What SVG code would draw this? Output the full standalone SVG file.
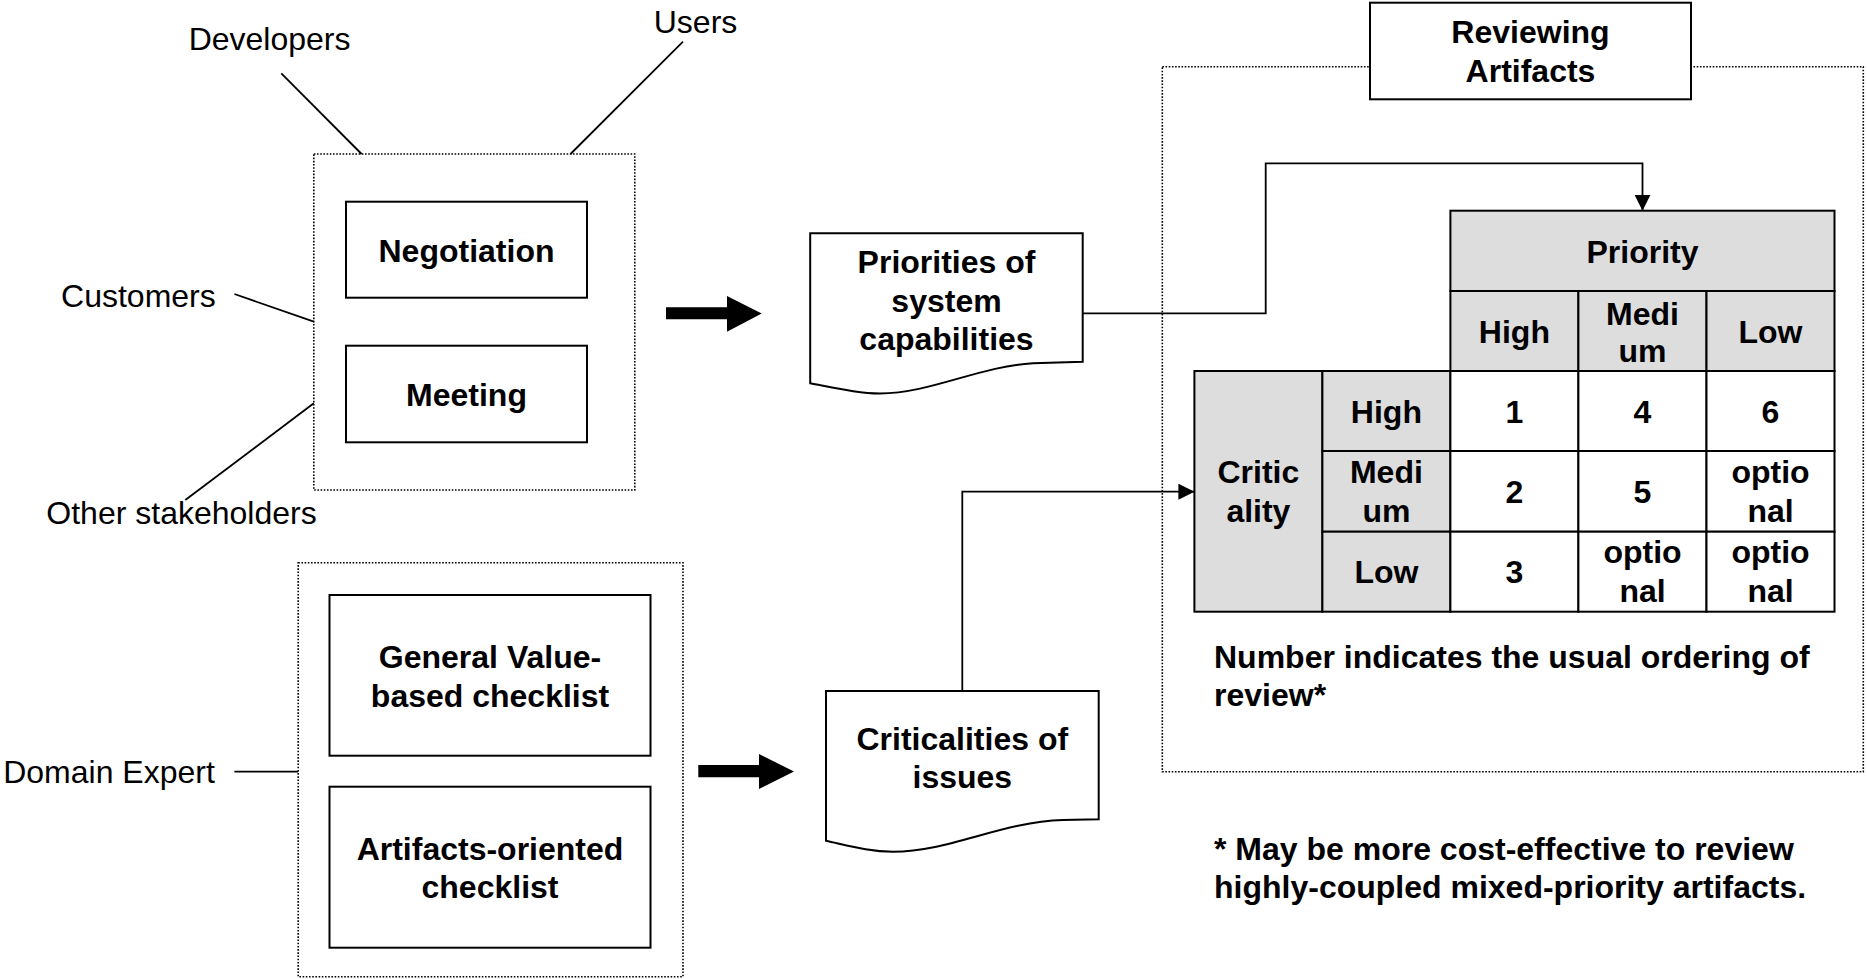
<svg xmlns="http://www.w3.org/2000/svg" width="1867" height="979" viewBox="0 0 1867 979">
<style>
  text { font-family: "Liberation Sans", Arial, sans-serif; font-size: 32px; fill: #000; }
  .b { font-weight: bold; }
  .c { text-anchor: middle; }
  .box { fill: #fff; stroke: #000; stroke-width: 2; }
  .dot { fill: none; stroke: #000; stroke-width: 1.6; stroke-dasharray: 1.6 1.6; }
  .ln { fill: none; stroke: #000; stroke-width: 1.8; }
  .gray { fill: #DDDDDD; stroke: #000; stroke-width: 2; }
  .cell { fill: #fff; stroke: #000; stroke-width: 2; }
  .thick { fill: #000; stroke: none; }
</style>
<defs>
  <marker id="ah" markerUnits="userSpaceOnUse" markerWidth="16" markerHeight="16" refX="16" refY="8" orient="auto">
    <path d="M0,0 L16,8 L0,16 Z" fill="#000"/>
  </marker>
</defs>
<rect width="1867" height="979" fill="#fff"/>

<!-- Stakeholder labels -->
<g id="developers"><text class="c" x="269.6" y="50">Developers</text></g>
<g id="users"><text class="c" x="695.5" y="33">Users</text></g>
<g id="customers"><text class="c" x="138.4" y="306.7">Customers</text></g>
<g id="other-stakeholders"><text class="c" x="181.5" y="524">Other stakeholders</text></g>
<g id="domain-expert"><text class="c" x="109" y="783.3">Domain Expert</text></g>

<!-- Negotiation group -->
<g id="group-negotiation">
  <rect class="dot" x="313.8" y="154" width="321" height="336"/>
  <g id="negotiation">
    <rect class="box" x="346" y="201.7" width="241" height="96"/>
    <text class="b c" x="466.5" y="261.7">Negotiation</text>
  </g>
  <g id="meeting">
    <rect class="box" x="346" y="345.7" width="241" height="96.6"/>
    <text class="b c" x="466.5" y="406">Meeting</text>
  </g>
</g>

<!-- Checklist group -->
<g id="group-checklists">
  <rect class="dot" x="298.2" y="562.7" width="384.8" height="414"/>
  <g id="general-checklist">
    <rect class="box" x="329.5" y="595" width="321" height="160.7"/>
    <text class="b c" x="490" y="668">General Value-</text>
    <text class="b c" x="490" y="706.5">based checklist</text>
  </g>
  <g id="artifacts-checklist">
    <rect class="box" x="329.5" y="786.7" width="321" height="161"/>
    <text class="b c" x="490" y="860">Artifacts-oriented</text>
    <text class="b c" x="490" y="898.3">checklist</text>
  </g>
</g>

<!-- Documents -->
<g id="priorities-doc">
  <path class="box" d="M810.2,233.3 H1082.7 V361.7 L1033,363.3 C980,366 930,393.5 880,393.5 C860,393.5 840,389 810.2,383.3 Z"/>
  <text class="b c" x="946.5" y="273.3">Priorities of</text>
  <text class="b c" x="946.5" y="311.6">system</text>
  <text class="b c" x="946.5" y="350">capabilities</text>
</g>
<g id="criticalities-doc">
  <path class="box" d="M826,691 H1098.7 V819.3 L1063,820 C1000,822 950,851.7 893,851.7 C870,851.7 850,846 826,840.7 Z"/>
  <text class="b c" x="962.3" y="750">Criticalities of</text>
  <text class="b c" x="962.3" y="788.3">issues</text>
</g>

<!-- Reviewing Artifacts -->
<g id="reviewing-artifacts">
  <rect class="dot" x="1162.3" y="66.7" width="701" height="705"/>
  <g id="reviewing-title">
    <rect class="box" x="1370" y="2.7" width="321" height="96.6"/>
    <text class="b c" x="1530.5" y="43.3">Reviewing</text>
    <text class="b c" x="1530.5" y="81.7">Artifacts</text>
  </g>
  <g id="matrix">
    <rect class="gray" x="1450.4" y="210.7" width="384.1" height="80.3"/>
    <rect class="gray" x="1450.4" y="291" width="128" height="80"/>
    <rect class="gray" x="1578.4" y="291" width="128.1" height="80"/>
    <rect class="gray" x="1706.5" y="291" width="128" height="80"/>
    <rect class="gray" x="1194.4" y="371" width="128" height="240.7"/>
    <rect class="gray" x="1322.4" y="371" width="128" height="80"/>
    <rect class="gray" x="1322.4" y="451" width="128" height="80.7"/>
    <rect class="gray" x="1322.4" y="531.7" width="128" height="80"/>
    <rect class="cell" x="1450.4" y="371" width="128" height="80"/>
    <rect class="cell" x="1578.4" y="371" width="128.1" height="80"/>
    <rect class="cell" x="1706.5" y="371" width="128" height="80"/>
    <rect class="cell" x="1450.4" y="451" width="128" height="80.7"/>
    <rect class="cell" x="1578.4" y="451" width="128.1" height="80.7"/>
    <rect class="cell" x="1706.5" y="451" width="128" height="80.7"/>
    <rect class="cell" x="1450.4" y="531.7" width="128" height="80"/>
    <rect class="cell" x="1578.4" y="531.7" width="128.1" height="80"/>
    <rect class="cell" x="1706.5" y="531.7" width="128" height="80"/>

    <text class="b c" x="1642.5" y="263.3">Priority</text>
    <text class="b c" x="1514.4" y="343.3">High</text>
    <text class="b c" x="1642.5" y="325">Medi</text>
    <text class="b c" x="1642.5" y="361.7">um</text>
    <text class="b c" x="1770.5" y="343.3">Low</text>

    <text class="b c" x="1258.4" y="483.3">Critic</text>
    <text class="b c" x="1258.4" y="521.7">ality</text>

    <text class="b c" x="1386.4" y="423.3">High</text>
    <text class="b c" x="1514.4" y="423.3">1</text>
    <text class="b c" x="1642.5" y="423.3">4</text>
    <text class="b c" x="1770.5" y="423.3">6</text>

    <text class="b c" x="1386.4" y="483.3">Medi</text>
    <text class="b c" x="1386.4" y="521.7">um</text>
    <text class="b c" x="1514.4" y="503.3">2</text>
    <text class="b c" x="1642.5" y="503.3">5</text>
    <text class="b c" x="1770.5" y="483.3">optio</text>
    <text class="b c" x="1770.5" y="521.7">nal</text>

    <text class="b c" x="1386.4" y="583.3">Low</text>
    <text class="b c" x="1514.4" y="583.3">3</text>
    <text class="b c" x="1642.5" y="563.3">optio</text>
    <text class="b c" x="1642.5" y="601.7">nal</text>
    <text class="b c" x="1770.5" y="563.3">optio</text>
    <text class="b c" x="1770.5" y="601.7">nal</text>
  </g>
  <g id="ordering-note">
    <text class="b" x="1214" y="668.3">Number indicates the usual ordering of</text>
    <text class="b" x="1214" y="706">review*</text>
  </g>
</g>

<g id="footnote">
  <text class="b" x="1214" y="860">* May be more cost-effective to review</text>
  <text class="b" x="1214" y="898.3">highly-coupled mixed-priority artifacts.</text>
</g>

<!-- Connectors -->
<g id="connectors">
  <line class="ln" x1="281.3" y1="73.3" x2="361.6" y2="154"/>
  <line class="ln" x1="683" y1="41.7" x2="570.5" y2="154"/>
  <line class="ln" x1="234.4" y1="294" x2="313.8" y2="321.7"/>
  <line class="ln" x1="185.3" y1="500" x2="313.8" y2="403.3"/>
  <line class="ln" x1="234.4" y1="771.7" x2="298.2" y2="771.7"/>
  <polygon class="thick" points="666,307.3 727,307.3 727,296 761.7,313.5 727,331.7 727,319.3 666,319.3"/>
  <polygon class="thick" points="698.3,765 759,765 759,754 794,771.5 759,789 759,777.3 698.3,777.3"/>
  <polyline class="ln" points="1082.7,313.3 1265.7,313.3 1265.7,163.3 1642.5,163.3 1642.5,210.7" marker-end="url(#ah)"/>
  <polyline class="ln" points="962.3,691 962.3,491.7 1194.4,491.7" marker-end="url(#ah)"/>
</g>
</svg>
